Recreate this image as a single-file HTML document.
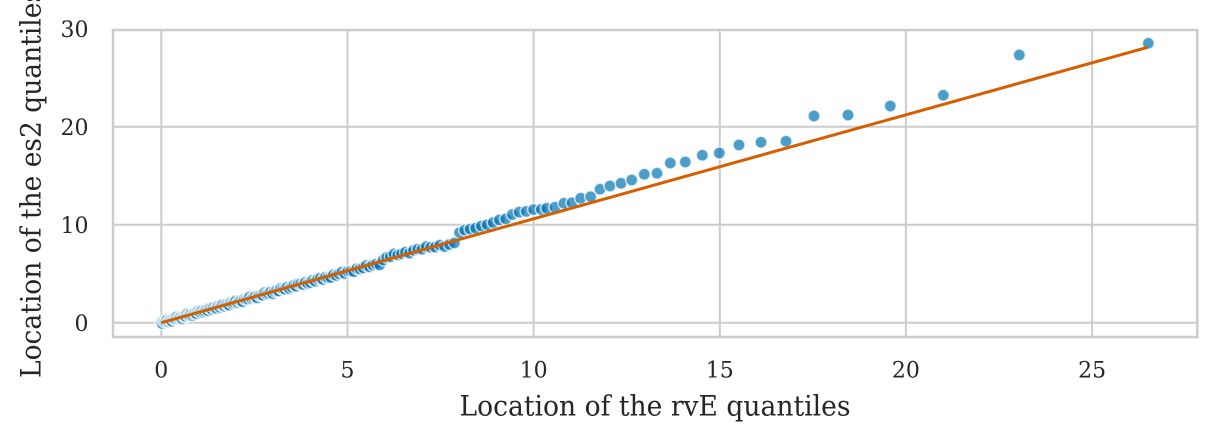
<!DOCTYPE html>
<html>
<head>
<meta charset="utf-8">
<style>
  html,body{margin:0;padding:0;background:#ffffff;}
  svg{display:block;}
  text{font-family:"DejaVu Serif","Liberation Serif",serif;fill:#262626;}
</style>
</head>
<body>
<svg id="chart" width="1217" height="441" viewBox="0 0 1217 441" xmlns="http://www.w3.org/2000/svg">
  <rect x="0" y="0" width="1217" height="441" fill="#ffffff"/>
  <!-- grid -->
  <g stroke="#cccccc" stroke-width="2" fill="none">
    <line x1="161.3" y1="30" x2="161.3" y2="337"/>
    <line x1="347.5" y1="30" x2="347.5" y2="337"/>
    <line x1="533.6" y1="30" x2="533.6" y2="337"/>
    <line x1="719.8" y1="30" x2="719.8" y2="337"/>
    <line x1="905.9" y1="30" x2="905.9" y2="337"/>
    <line x1="1092.1" y1="30" x2="1092.1" y2="337"/>
    <line x1="113" y1="322.7" x2="1197.3" y2="322.7"/>
    <line x1="113" y1="224.7" x2="1197.3" y2="224.7"/>
    <line x1="113" y1="126.7" x2="1197.3" y2="126.7"/>
  </g>
  <g id="pts"></g>
  <!-- fit line -->
  <line x1="161.3" y1="322.7" x2="1147.7" y2="47.3" stroke="#d55e00" stroke-width="3"/>
  <!-- spines -->
  <rect x="113" y="30" width="1084.3" height="307" fill="none" stroke="#cccccc" stroke-width="2.5"/>
  <!-- y tick labels -->
  <g font-size="22" text-anchor="end">
    <text x="88.5" y="331.2">0</text>
    <text x="88.5" y="233.2">10</text>
    <text x="88.5" y="135.2">20</text>
    <text x="88.5" y="37.2">30</text>
  </g>
  <!-- x tick labels -->
  <g font-size="22" text-anchor="middle">
    <text x="161.3" y="377.7">0</text>
    <text x="347.5" y="377.7">5</text>
    <text x="533.6" y="377.7">10</text>
    <text x="719.8" y="377.7">15</text>
    <text x="905.9" y="377.7">20</text>
    <text x="1092.1" y="377.7">25</text>
  </g>
  <text x="655" y="415.5" font-size="28" text-anchor="middle" textLength="391" lengthAdjust="spacingAndGlyphs">Location of the rvE quantiles</text>
  <text transform="translate(40.5,183.5) rotate(-90)" x="0" y="0" font-size="28" text-anchor="middle" textLength="389" lengthAdjust="spacingAndGlyphs">Location of the es2 quantiles</text>
</svg>
<script>
(function(){
  var NS="http://www.w3.org/2000/svg";
  var g=document.getElementById("pts");
  function X(v){return 161.3+v*37.23;}
  var anchors=[[161.3,322.7],[250,298.3],[300,284.5],[370,266],[381,263],[386,257.5],[420,249],[455,243.5],[459,232],[480,226.7],[500,220],[506.7,218.3],[515,213.3],[531.7,210],[540,209.3],[546.7,208.3]];
  function yAt(px){
    if(px<=anchors[0][0]) return anchors[0][1];
    for(var i=1;i<anchors.length;i++){
      if(px<=anchors[i][0]){
        var a=anchors[i-1],b=anchors[i];
        var t=(px-a[0])/(b[0]-a[0]);
        return a[1]+t*(b[1]-a[1]);
      }
    }
    return anchors[anchors.length-1][1];
  }
  var pts=[];
  var v=0, k=0;
  while(X(v)<543){
    var px=X(v);
    var amp = px<460 ? 1.6 : 0.6;
    var j = amp*(Math.sin(k*2.31)*0.7+Math.sin(k*0.77+1.3)*0.3);
    if(k===0) j=0;
    pts.push([px,yAt(px)+j]);
    v+=0.031*Math.exp(v/5.3);
    k++;
  }
  var tail=[[546.7,208.3],[555,207.3],[564,203.3],[572,202.7],[580.7,198.3],[590.7,196.7],[600,189.3],[610,186],[621,183.3],[631.7,180],[644.3,174.3],[657,173.3],[670.3,163],[685.3,162],[702.3,155.3],[719.3,153],[739,145],[761,142.3],[786,141.3],[814,116],[848,115],[890.3,106],[943.3,95.3],[1019.3,55],[1148.3,43.3]];
  pts=pts.concat(tail);
  for(var n=0;n<pts.length;n++){
    var c=document.createElementNS(NS,"circle");
    c.setAttribute("cx",pts[n][0].toFixed(2));
    c.setAttribute("cy",pts[n][1].toFixed(2));
    c.setAttribute("r","6");
    c.setAttribute("fill","#0173b2");
    c.setAttribute("fill-opacity","0.7");
    c.setAttribute("stroke","#ffffff");
    c.setAttribute("stroke-opacity","0.7");
    c.setAttribute("stroke-width","1.5");
    g.appendChild(c);
  }
})();
</script>
</body>
</html>
